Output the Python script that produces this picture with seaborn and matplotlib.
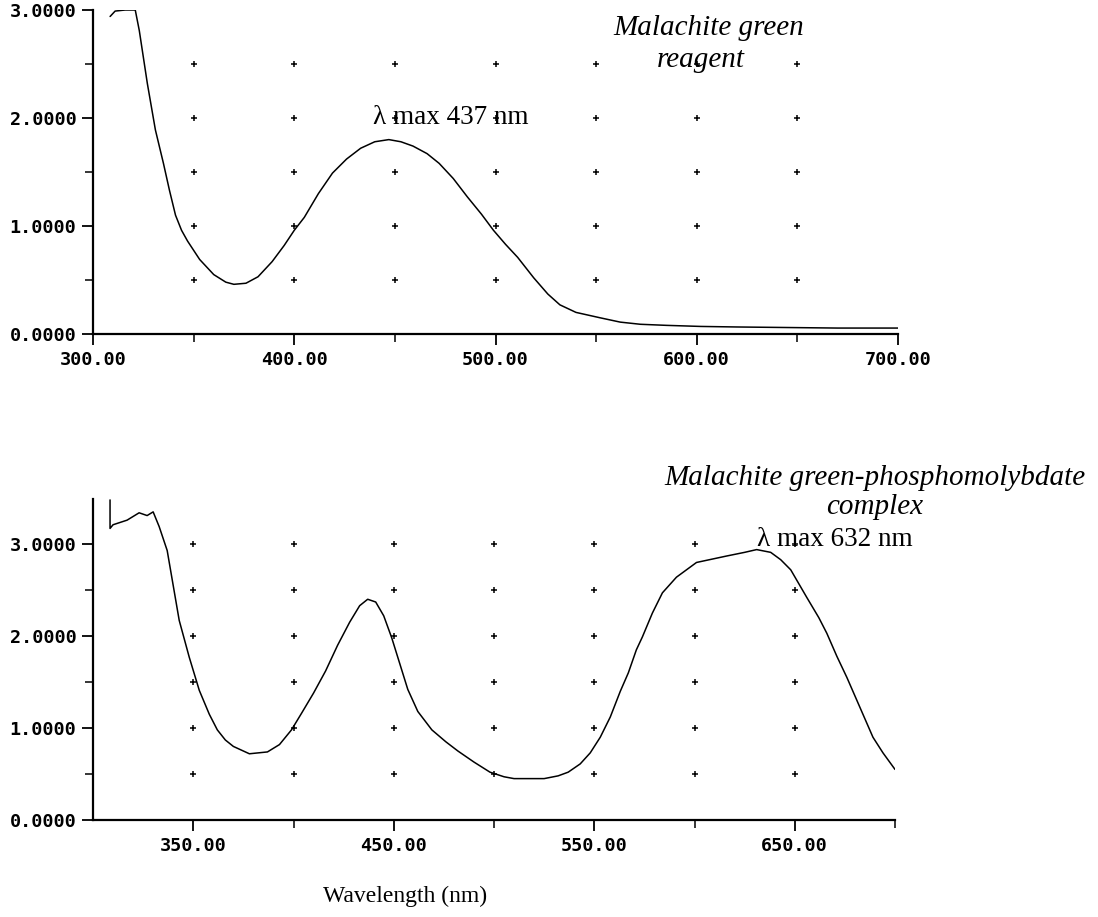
import numpy as np
import pandas as pd
import matplotlib
matplotlib.use('Agg')
import matplotlib.pyplot as plt
import seaborn as sns

# Spectrum of malachite green reagent (top panel)
reagent_nm = [308.5, 311, 316, 321, 323, 327, 331, 335, 338, 341, 344, 347, 353, 360, 366, 370,
              376, 382, 389, 395, 400, 405, 412, 419, 426, 433, 440, 447, 453, 459, 466,
              472, 479, 486, 493, 499, 505, 511, 519, 526, 532, 540, 552, 562, 572, 585,
              602, 620, 645, 670, 700]
reagent_abs = [2.94, 2.99, 3.00, 3.00, 2.81, 2.32, 1.89, 1.58, 1.33, 1.10, 0.96, 0.86, 0.69, 0.55, 0.48, 0.46,
               0.47, 0.53, 0.67, 0.82, 0.96, 1.08, 1.30, 1.49, 1.62, 1.72, 1.78, 1.80, 1.78, 1.74, 1.67,
               1.58, 1.44, 1.27, 1.11, 0.96, 0.83, 0.71, 0.52, 0.37, 0.27, 0.20, 0.15, 0.11, 0.09, 0.08,
               0.07, 0.065, 0.06, 0.055, 0.055]

# Spectrum of malachite green-phosphomolybdate complex (bottom panel)
complex_nm = [308.5, 308.5, 310, 317, 323, 327, 330, 333, 337, 340, 343, 348, 353, 358, 362,
              366, 370, 378, 387, 393, 399, 404, 410, 416, 422, 428, 433, 437, 441, 445,
              449, 453, 457, 462, 469, 476, 482, 490, 498, 505, 510, 525, 532, 537, 543,
              548, 553, 558, 563, 567, 571, 574, 579, 584, 591, 601, 616, 625, 631, 638,
              643, 648, 656, 662, 666, 671, 676, 680, 685, 689, 694, 699, 700]
complex_abs = [3.48, 3.17, 3.21, 3.26, 3.34, 3.31, 3.35, 3.19, 2.93, 2.55, 2.17, 1.77, 1.41, 1.15, 0.98,
               0.87, 0.80, 0.72, 0.74, 0.82, 0.98, 1.16, 1.38, 1.62, 1.90, 2.15, 2.33, 2.40, 2.37, 2.22,
               1.98, 1.70, 1.42, 1.18, 0.98, 0.85, 0.75, 0.63, 0.52, 0.47, 0.45, 0.45, 0.48, 0.52, 0.61,
               0.73, 0.90, 1.12, 1.40, 1.60, 1.85, 1.99, 2.25, 2.47, 2.64, 2.80, 2.87, 2.91, 2.94, 2.91,
               2.83, 2.72, 2.42, 2.20, 2.03, 1.78, 1.55, 1.35, 1.10, 0.90, 0.73, 0.58, 0.55]

# dotted grid of the instrument printout
grid_x = [350, 400, 450, 500, 550, 600, 650]
grid_y_top = [0.5, 1.0, 1.5, 2.0, 2.5]
grid_y_bottom = [0.5, 1.0, 1.5, 2.0, 2.5, 3.0]

top_xticks = [300, 400, 500, 600, 700]
top_xminor = [350, 450, 550, 650]
bottom_xticks = [350, 450, 550, 650]
bottom_xminor = [400, 500, 600, 700]
yticks = [0, 1, 2, 3]

sns.set_style('ticks')
plt.rcParams['font.family'] = ['DejaVu Sans Mono', 'DejaVu Sans']
plt.rcParams['text.color'] = 'black'
plt.rcParams['xtick.color'] = 'black'
plt.rcParams['ytick.color'] = 'black'

W, H = 1098, 917
fig = plt.figure(figsize=(W / 100, H / 100), dpi=100)
ax1 = fig.add_axes([93 / W, 1 - 334 / H, (898 - 93) / W, (334 - 10) / H])
ax2 = fig.add_axes([93 / W, 1 - 820 / H, (895 - 93) / W, (820 - 499) / H])


def grid_dots(ax, ys):
    gx, gy = np.meshgrid(grid_x, ys)
    sns.scatterplot(x=gx.ravel(), y=gy.ravel(), ax=ax, marker='+', s=22,
                    color='black', linewidth=1.1, legend=False)


df_top = pd.DataFrame({'nm': reagent_nm, 'abs': reagent_abs})
df_bot = pd.DataFrame({'nm': complex_nm, 'abs': complex_abs})

grid_dots(ax1, grid_y_top)
sns.lineplot(data=df_top, x='nm', y='abs', ax=ax1, sort=False, estimator=None,
             color='black', linewidth=1.1)
grid_dots(ax2, grid_y_bottom)
sns.lineplot(data=df_bot, x='nm', y='abs', ax=ax2, sort=False, estimator=None,
             color='black', linewidth=1.1)

ax1.set_xlim(300, 700)
ax1.set_ylim(0, 3)
ax2.set_xlim(300, 700)
ax2.set_ylim(0, 3.49)

ax1.set_xticks(top_xticks)
ax1.set_xticks(top_xminor, minor=True)
ax1.set_xticklabels([f'{v:.2f}' for v in top_xticks])
ax2.set_xticks(bottom_xticks)
ax2.set_xticks(bottom_xminor, minor=True)
ax2.set_xticklabels([f'{v:.2f}' for v in bottom_xticks])

for ax in (ax1, ax2):
    ax.set_yticks(yticks)
    ax.set_yticks([0.5, 1.5, 2.5], minor=True)
    ax.set_yticklabels([f'{v:.4f}' for v in yticks])
    ax.set_xlabel('')
    ax.set_ylabel('')
    sns.despine(ax=ax)
    for s in ('left', 'bottom'):
        ax.spines[s].set_linewidth(1.6)
        ax.spines[s].set_color('black')
    ax.tick_params(which='major', direction='out', length=8, width=1.3, color='black',
                   labelsize=13.3, pad=4, labelcolor='black')
    ax.tick_params(which='minor', direction='out', length=6, width=1.1, color='black')
    for lab in ax.get_xticklabels() + ax.get_yticklabels():
        lab.set_fontweight('bold')

serif = ['Liberation Serif', 'DejaVu Serif']
fig.text(709 / W, 1 - 28 / H, 'Malachite green', ha='center', va='center',
         fontsize=21, style='italic', family=serif)
fig.text(701 / W, 1 - 60 / H, 'reagent', ha='center', va='center',
         fontsize=21, style='italic', family=serif)
fig.text(373 / W, 1 - 117 / H, 'λ max 437 nm', ha='left', va='center',
         fontsize=19.5, family=serif)
fig.text(875 / W, 1 - 478 / H, 'Malachite green-phosphomolybdate', ha='center', va='center',
         fontsize=21, style='italic', family=serif)
fig.text(875 / W, 1 - 507 / H, 'complex', ha='center', va='center',
         fontsize=21, style='italic', family=serif)
fig.text(757 / W, 1 - 540 / H, 'λ max 632 nm', ha='left', va='center',
         fontsize=19.5, family=serif)
fig.text(405 / W, 1 - 896 / H, 'Wavelength (nm)', ha='center', va='center',
         fontsize=17, family=serif)

fig.savefig('out.png', dpi=100)
